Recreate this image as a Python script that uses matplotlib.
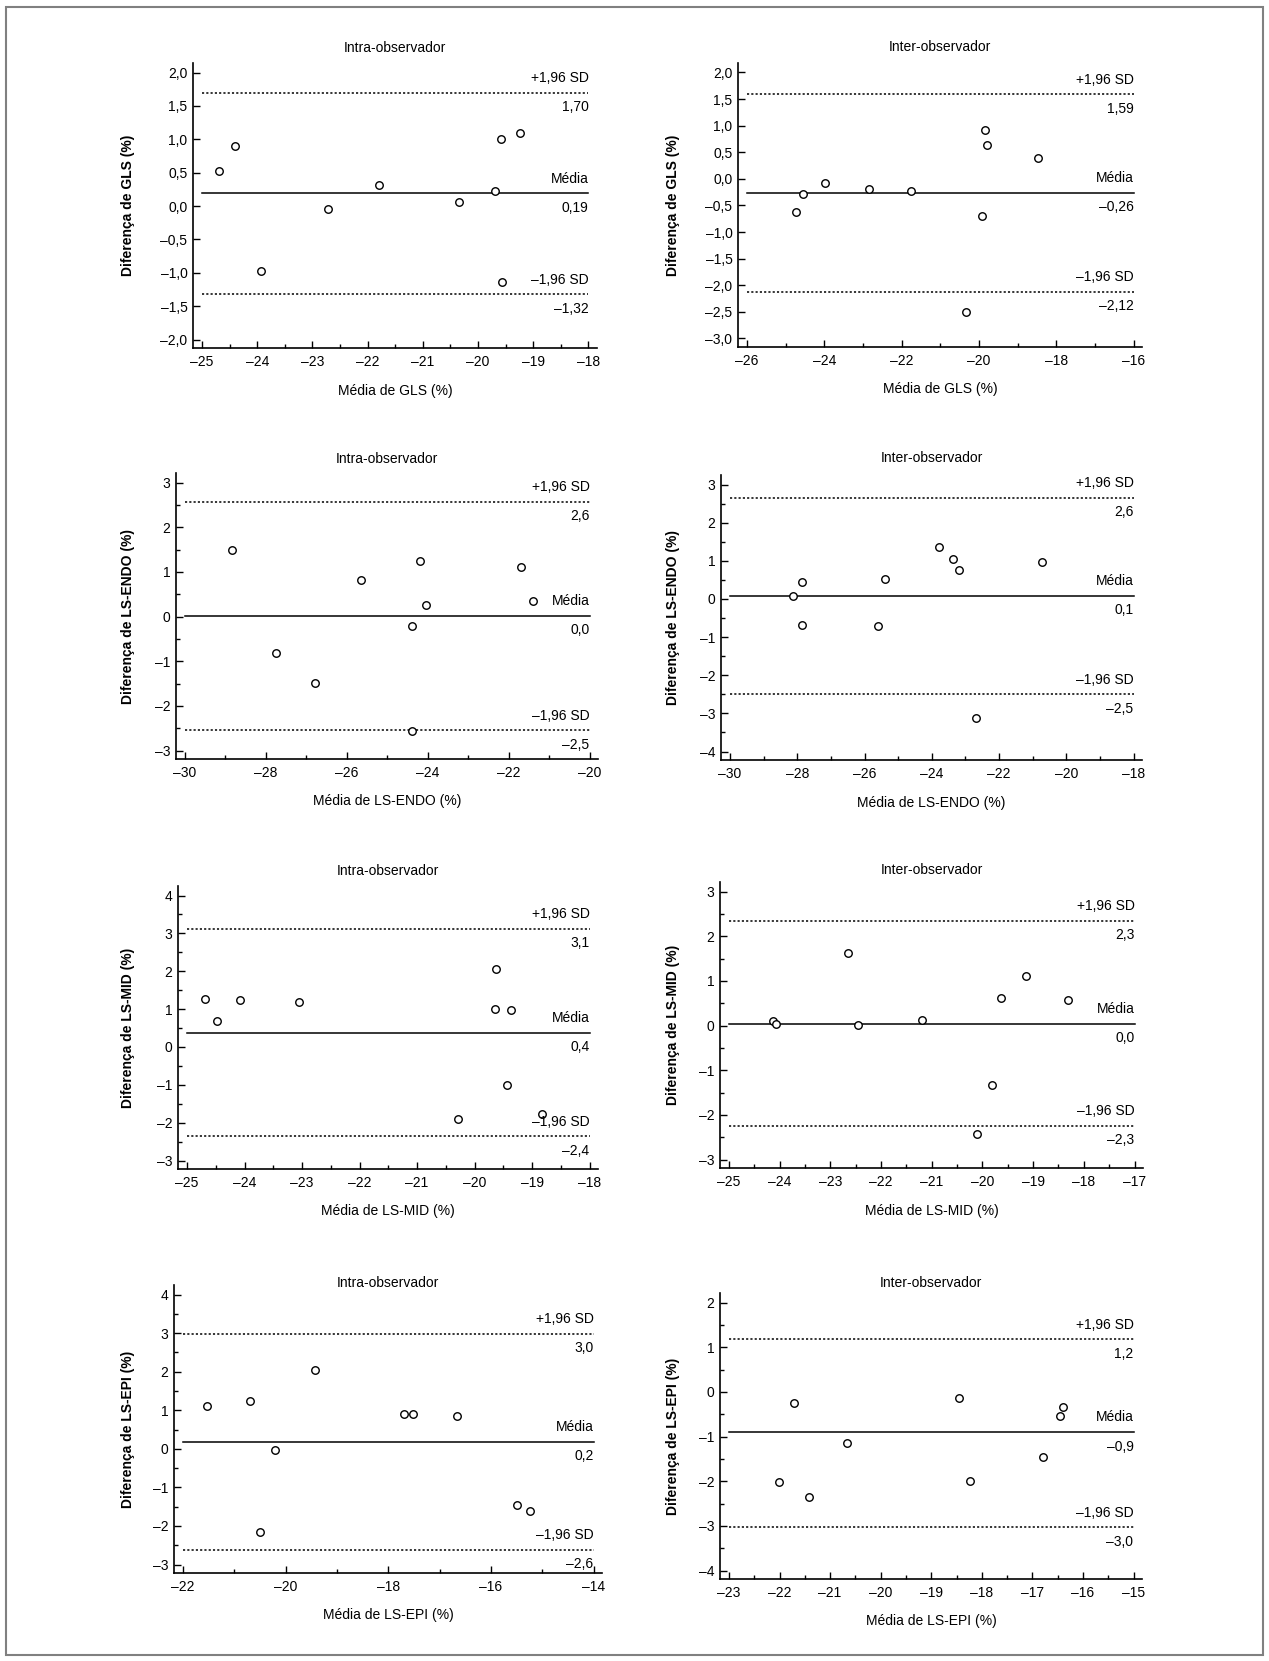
import matplotlib
matplotlib.use('Agg')
import matplotlib.pyplot as plt
from matplotlib import font_manager
from matplotlib.ticker import MultipleLocator, FuncFormatter
from matplotlib.patches import Rectangle
from matplotlib.transforms import blended_transform_factory

W, H = 1269, 1661

# pick a narrow sans if there is one
installed = {f.name for f in font_manager.fontManager.ttflist}
if 'Liberation Sans Narrow' in installed:
    FONT, FS = 'Liberation Sans Narrow', 11
else:
    FONT, FS = 'Liberation Sans', 10
plt.rcParams['font.family'] = [FONT, 'DejaVu Sans']
plt.rcParams['font.size'] = FS

# ---- data ----
gls_intra_x = [-24.69, -24.40, -23.94, -22.71, -21.80, -20.35, -19.70, -19.59, -19.24, -19.57]
gls_intra_y = [0.52, 0.90, -0.98, -0.05, 0.32, 0.06, 0.22, 1.01, 1.10, -1.14]
gls_intra_lines = [1.70, 0.19, -1.32]
gls_intra_text = ['1,70', '0,19', '–1,32']

gls_inter_x = [-24.73, -24.56, -23.98, -22.85, -21.75, -20.34, -19.93, -19.84, -19.79, -18.47]
gls_inter_y = [-0.63, -0.28, -0.08, -0.19, -0.22, -2.50, -0.69, 0.92, 0.64, 0.39]
gls_inter_lines = [1.59, -0.26, -2.12]
gls_inter_text = ['1,59', '–0,26', '–2,12']

endo_intra_x = [-28.83, -27.76, -26.79, -25.66, -24.38, -24.39, -24.19, -24.03, -21.69, -21.39]
endo_intra_y = [1.48, -0.82, -1.49, 0.81, -0.21, -2.56, 1.24, 0.26, 1.11, 0.35]
endo_intra_lines = [2.57, 0.02, -2.55]
endo_intra_text = ['2,6', '0,0', '–2,5']

endo_inter_x = [-28.12, -27.87, -27.87, -25.60, -25.39, -23.78, -23.37, -23.19, -22.69, -20.72]
endo_inter_y = [0.07, 0.44, -0.69, -0.72, 0.53, 1.35, 1.04, 0.77, -3.12, 0.97]
endo_inter_lines = [2.65, 0.08, -2.50]
endo_inter_text = ['2,6', '0,1', '–2,5']

mid_intra_x = [-24.69, -24.48, -24.07, -23.05, -20.28, -19.65, -19.62, -19.44, -19.36, -18.82]
mid_intra_y = [1.26, 0.68, 1.24, 1.18, -1.91, 0.99, 2.05, -1.00, 0.97, -1.77]
mid_intra_lines = [3.12, 0.38, -2.36]
mid_intra_text = ['3,1', '0,4', '–2,4']

mid_inter_x = [-24.13, -24.07, -22.65, -22.46, -21.19, -20.10, -19.82, -19.63, -19.15, -18.31]
mid_inter_y = [0.11, 0.04, 1.63, 0.01, 0.13, -2.43, -1.34, 0.62, 1.11, 0.56]
mid_inter_lines = [2.35, 0.04, -2.24]
mid_inter_text = ['2,3', '0,0', '–2,3']

epi_intra_x = [-21.54, -20.69, -20.49, -20.21, -19.42, -17.69, -17.51, -16.66, -15.49, -15.24]
epi_intra_y = [1.11, 1.23, -2.16, -0.03, 2.04, 0.89, 0.89, 0.84, -1.45, -1.61]
epi_intra_lines = [2.98, 0.18, -2.62]
epi_intra_text = ['3,0', '0,2', '–2,6']

epi_inter_x = [-22.02, -21.71, -21.41, -20.66, -18.46, -18.23, -16.79, -16.46, -16.39]
epi_inter_y = [-2.02, -0.25, -2.35, -1.15, -0.13, -1.99, -1.46, -0.53, -0.34]
epi_inter_lines = [1.18, -0.90, -3.03]
epi_inter_text = ['1,2', '–0,9', '–3,0']

titles = ['Intra-observador', 'Inter-observador'] * 4
measures = ['GLS', 'GLS', 'LS-ENDO', 'LS-ENDO', 'LS-MID', 'LS-MID', 'LS-EPI', 'LS-EPI']

# x ticks: first, last, major step, minor step
x_ticks = [(-25, -18, 1, 0.5), (-26, -16, 2, 1), (-30, -20, 2, 1), (-30, -18, 2, 1),
           (-25, -18, 1, 0.5), (-25, -17, 1, 0.5), (-22, -14, 2, 1), (-23, -15, 1, 0.5)]
# y ticks: first, last, major step, minor step, decimals
y_ticks = [(-2, 2, 0.5, None, 1), (-3, 2, 0.5, None, 1), (-3, 3, 1, 0.5, 0), (-4, 3, 1, 0.5, 0),
           (-3, 4, 1, 0.5, 0), (-3, 3, 1, 0.5, 0), (-3, 4, 1, 0.5, 0), (-4, 2, 1, 0.5, 0)]

series_x = [gls_intra_x, gls_inter_x, endo_intra_x, endo_inter_x,
            mid_intra_x, mid_inter_x, epi_intra_x, epi_inter_x]
series_y = [gls_intra_y, gls_inter_y, endo_intra_y, endo_inter_y,
            mid_intra_y, mid_inter_y, epi_intra_y, epi_inter_y]
series_lines = [gls_intra_lines, gls_inter_lines, endo_intra_lines, endo_inter_lines,
                mid_intra_lines, mid_inter_lines, epi_intra_lines, epi_inter_lines]
series_text = [gls_intra_text, gls_inter_text, endo_intra_text, endo_inter_text,
               mid_intra_text, mid_inter_text, epi_intra_text, epi_inter_text]

# ---- layout in pixels: left, right, top, bottom, title centre y ----
boxes = [(193, 597, 63, 348, 48), (738, 1142, 63, 347, 47),
         (176, 598, 473, 759, 459), (721, 1142, 475, 760, 458),
         (178, 598, 886, 1169, 871), (720, 1143, 882, 1168, 870),
         (174, 602, 1285, 1573, 1283), (720, 1142, 1293, 1579, 1283)]
ylabel_x = [128, 673]


def num(v, dec):
    s = f'{abs(v):.{dec}f}'.replace('.', ',')
    return '–' + s if v < -1e-9 else s


fig = plt.figure(figsize=(W / 100, H / 100), dpi=100)

for i in range(8):
    l, r, t, b, ty = boxes[i]
    ax = fig.add_axes([l / W, 1 - b / H, (r - l) / W, (b - t) / H])
    x0, x1, xmaj, xmin_ = x_ticks[i]
    y0, y1, ymaj, ymin_, ydec = y_ticks[i]

    # limits with a few pixels of room around the first/last ticks
    ux = (x1 - x0) / (r - l - 17.5)
    uy = (y1 - y0) / (b - t - 18)
    ax.set_xlim(x0 - 9 * ux, x1 + 8.5 * ux)
    ax.set_ylim(y0 - 8.5 * uy, y1 + 9.5 * uy)

    up, mean, low = series_lines[i]
    ax.plot([x0, x1], [mean, mean], color='black', lw=1.1)
    ax.plot([x0, x1], [up, up], color='black', lw=1.1, linestyle=(0, (1.4, 1.4)))
    ax.plot([x0, x1], [low, low], color='black', lw=1.1, linestyle=(0, (1.4, 1.4)))
    ax.plot(series_x[i], series_y[i], 'o', ms=5.4, mfc='white', mec='black', mew=1,
            ls='none', zorder=3)

    txt_up, txt_mean, txt_low = series_text[i]
    for v, above, below in [(up, '+1,96 SD', txt_up), (mean, 'Média', txt_mean),
                            (low, '–1,96 SD', txt_low)]:
        ax.annotate(above, xy=(x1, v), xytext=(0, 10.5), textcoords='offset points',
                    ha='right', va='center')
        ax.annotate(below, xy=(x1, v), xytext=(0, -10.5), textcoords='offset points',
                    ha='right', va='center')

    ax.xaxis.set_major_locator(MultipleLocator(xmaj))
    ax.xaxis.set_minor_locator(MultipleLocator(xmin_))
    ax.yaxis.set_major_locator(MultipleLocator(ymaj))
    if ymin_:
        ax.yaxis.set_minor_locator(MultipleLocator(ymin_))
    ax.xaxis.set_major_formatter(FuncFormatter(lambda v, p: num(v, 0)))
    ax.yaxis.set_major_formatter(FuncFormatter(lambda v, p, d=ydec: num(v, d)))

    for s in ['top', 'right']:
        ax.spines[s].set_visible(False)
    for s in ['left', 'bottom']:
        ax.spines[s].set_linewidth(1.2)
    ax.tick_params(which='major', direction='in', length=5.3, width=1, labelsize=FS)
    ax.tick_params(which='minor', direction='in', length=3, width=1)
    ax.tick_params(axis='x', which='major', pad=5)
    ax.tick_params(axis='y', which='major', pad=4)

    ax.set_xlabel(f'Média de {measures[i]} (%)')
    ax.xaxis.set_label_coords(0.5, -42.5 / (b - t))
    ax.xaxis.label.set_va('center')
    ax.set_ylabel(f'Diferença de {measures[i]} (%)', fontweight='bold')
    ax.yaxis.set_label_coords(ylabel_x[i % 2] / W, 0.5,
                              transform=blended_transform_factory(fig.transFigure, ax.transAxes))
    ax.yaxis.label.set_va('center')

    fig.text((l + r) / 2 / W, 1 - ty / H, titles[i], ha='center', va='center')

# grey frame round the whole figure
fig.add_artist(Rectangle((6.5 / W, 1 - 1655 / H), (1263 - 6.5) / W, (1655 - 7) / H,
                         transform=fig.transFigure, fill=False, edgecolor='#808080', lw=1.5))

fig.savefig('out.png', dpi=100)
